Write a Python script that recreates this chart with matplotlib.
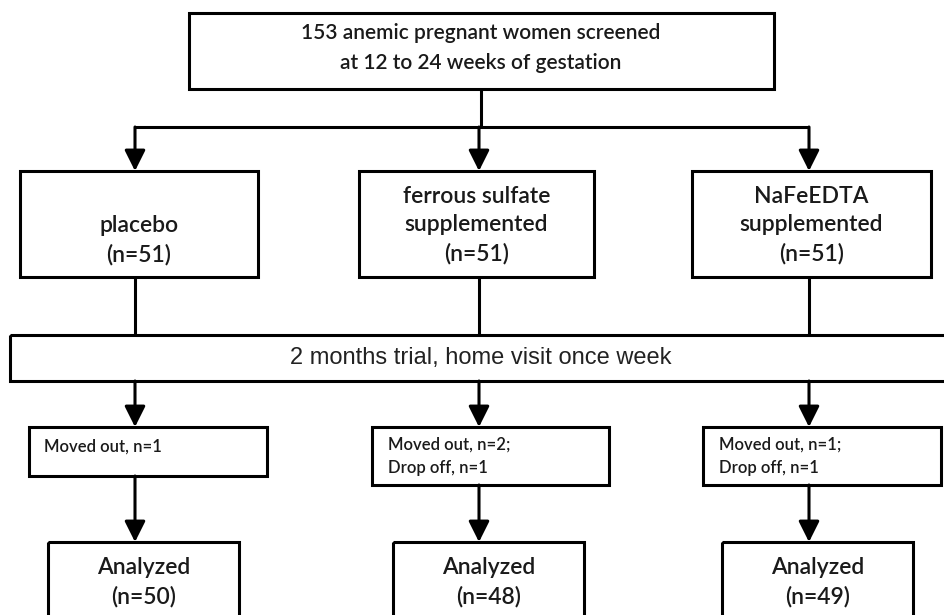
import matplotlib
matplotlib.use("Agg")
import matplotlib.pyplot as plt
from matplotlib.patches import Rectangle

# flow data
screened = 153
weeks = (12, 24)
groups = ["placebo", "ferrous sulfate\nsupplemented", "NaFeEDTA\nsupplemented"]
randomized = [51, 51, 51]
moved_out = [1, 2, 1]
drop_off = [0, 1, 1]
analyzed = [50, 48, 49]
trial_text = "2 months trial, home visit once week"

# layout in pixels (y grows downward)
col_x = [135, 479, 809]
group_boxes = [(20, 258), (359, 594), (692, 931)]
loss_boxes = [(29, 267), (372, 609), (703, 941)]
loss_bottom = [476, 485, 485]
anal_boxes = [(48, 239), (393, 584), (722, 913)]

LW = 2.2
FONT = "Lato"
WT = "semibold"
TXT = "#1a1a1a"

fig = plt.figure(figsize=(9.44, 6.15), dpi=100)
ax = fig.add_axes([0, 0, 1, 1])
ax.set_xlim(0, 944)
ax.set_ylim(615, 0)
ax.axis("off")


def box(x0, x1, y0, y1):
    ax.add_patch(Rectangle((x0, y0), x1 - x0, y1 - y0, fill=False,
                           edgecolor="black", lw=LW, joinstyle="miter"))


def arrow(x, y0, y1):
    ax.annotate("", xy=(x, y1), xytext=(x, y0),
                arrowprops=dict(arrowstyle="-|>,head_length=0.7,head_width=0.35",
                                lw=LW, color="black", shrinkA=0, shrinkB=0,
                                mutation_scale=18))


def line(xs, ys):
    ax.plot(xs, ys, color="black", lw=LW, solid_capstyle="butt")


# top box
box(189, 774, 13, 89)
ax.text(481, 33, f"{screened} anemic pregnant women screened",
        ha="center", va="center", fontsize=15, family=FONT, weight=WT, color=TXT)
ax.text(481, 63, f"at {weeks[0]} to {weeks[1]} weeks of gestation",
        ha="center", va="center", fontsize=15, family=FONT, weight=WT, color=TXT)
line([481, 481], [89, 127])
line([col_x[0], col_x[2]], [127, 127])

# trial box
box(10, 946, 335, 381)
ax.text(481, 358, trial_text, ha="center", va="center", fontsize=17,
        family="Liberation Sans", color="#222")

for i in range(3):
    cx = col_x[i]
    # randomized groups
    arrow(cx, 127, 171)
    gx0, gx1 = group_boxes[i]
    box(gx0, gx1, 171, 277)
    label = groups[i] + f"\n(n={randomized[i]})"
    nlines = label.count("\n") + 1
    ax.text((gx0 + gx1) / 2, 225 if nlines == 3 else 240, label,
            ha="center", va="center", fontsize=16.5, family=FONT, weight=WT,
            color=TXT, linespacing=1.42)
    line([cx, cx], [277, 335])

    # losses
    arrow(cx, 381, 427)
    lx0, lx1 = loss_boxes[i]
    box(lx0, lx1, 427, loss_bottom[i])
    if drop_off[i]:
        txt = f"Moved out, n={moved_out[i]};\nDrop off, n={drop_off[i]}"
        ax.text(lx0 + 16, 456, txt, ha="left", va="center", fontsize=12,
                family=FONT, weight=WT, color=TXT, linespacing=1.6)
    else:
        ax.text(lx0 + 15, 447, f"Moved out, n={moved_out[i]}", ha="left",
                va="center", fontsize=12, family=FONT, weight=WT, color=TXT)

    # analyzed
    arrow(cx, loss_bottom[i], 542)
    ax0, ax1 = anal_boxes[i]
    box(ax0, ax1, 542, 640)
    ax.text((ax0 + ax1) / 2, 582, f"Analyzed\n(n={analyzed[i]})", ha="center",
            va="center", fontsize=16.5, family=FONT, weight=WT, color=TXT,
            linespacing=1.42)

fig.savefig("out.png", dpi=100)
